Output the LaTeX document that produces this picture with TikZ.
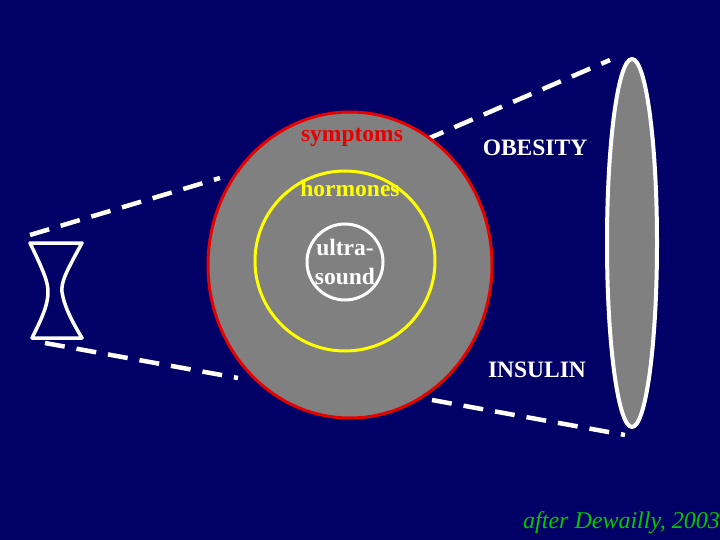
\documentclass[tikz,border=0pt]{standalone}
\usepackage{fontspec}
\usetikzlibrary{shapes.geometric}
\setmainfont{Liberation Serif}
\definecolor{bg}{RGB}{0,0,102}
\definecolor{gr}{RGB}{128,128,128}
\definecolor{rd}{RGB}{230,0,0}
\definecolor{yl}{RGB}{255,255,0}
\definecolor{gn}{RGB}{0,200,0}
\begin{document}
\begin{tikzpicture}[x=1pt,y=-1pt,
  dl/.style={white,line width=4.5pt,dash pattern=on 20pt off 12pt},
  lab/.style={font=\fontsize{23.5}{23}\selectfont\bfseries,inner sep=1pt}]
\fill[bg] (0,0) rectangle (720,540);
\useasboundingbox (0,0) rectangle (720,540);
\coordinate (t1) at (30,235); \coordinate (t2) at (220,178);
\coordinate (t3) at (425,140); \coordinate (t4) at (610,60);
\coordinate (b1) at (45,343); \coordinate (b2) at (238,378);
\coordinate (b3) at (432,400); \coordinate (b4) at (625,435);
\draw[dl] (t1) -- (t2); \draw[dl] (t3) -- (t4);
\draw[dl] (b1) -- (b2); \draw[dl] (b3) -- (b4);
\node[ellipse,draw=rd,fill=gr,line width=3pt,minimum width=284pt,minimum height=306pt] (outer) at (350,265) {};
\node[circle,draw=yl,line width=3pt,minimum size=180pt] (mid) at (345,261) {};
\node[circle,draw=white,line width=3pt,minimum size=76pt,inner sep=0pt,align=center,text=white,font=\fontsize{23.5}{29}\selectfont\bfseries] (us) at (345,262) {ultra-\\sound};
\node[ellipse,draw=white,fill=gr,line width=4pt,minimum width=50pt,minimum height=368pt] (lens) at (632,243) {};
\draw[white,line width=3.5pt,line join=round] (30,243) -- (82,243) .. controls (66,272) and (61,282) .. (62,292) .. controls (64,305) and (70,318) .. (82,338) -- (32,338) .. controls (42,318) and (48,305) .. (48,292) .. controls (48,282) and (44,272) .. (30,243) -- cycle;
\node[lab,text=rd] (s) at (352,137) {symptoms};
\node[lab,text=white] (o) at (535,148) {OBESITY};
\node[lab,text=yl] (h) at (350,188) {hormones};
\node[lab,text=white] (i) at (537,370) {INSULIN};
\node[text=gn,anchor=west,font=\fontsize{24}{26}\selectfont\itshape,inner sep=0pt] (a) at (523,523) {after Dewailly, 2003};
\end{tikzpicture}
\end{document}
